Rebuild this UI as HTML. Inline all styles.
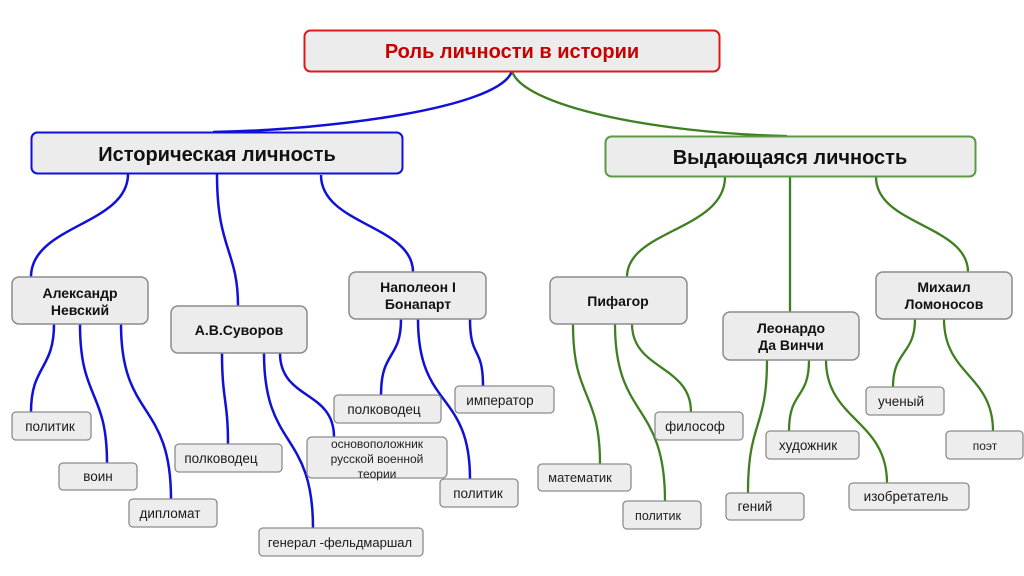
<!DOCTYPE html>
<html><head><meta charset="utf-8">
<style>
html,body{margin:0;padding:0;background:#fff;}
svg{display:block;}
text{font-family:"Liberation Sans","DejaVu Sans",sans-serif;}
.b{fill:#ececec;stroke:#8c8c8c;stroke-width:1.5;}
.l{fill:#ededed;stroke:#8c8c8c;stroke-width:1.3;}
.t1{font-size:20px;font-weight:bold;fill:#111;}
.t2{font-size:14px;font-weight:bold;fill:#111;}
.t3{font-size:13.5px;fill:#1a1a1a;}
.bl{fill:none;stroke:#1010d8;stroke-width:2.5;}
.gr{fill:none;stroke:#3f7f22;stroke-width:2.3;}
</style></head>
<body>
<svg width="1024" height="576" viewBox="0 0 1024 576" xmlns="http://www.w3.org/2000/svg">
<!-- root connectors -->
<path class="bl" d="M512,71 C500,108 330,130 213,132"/>
<path class="gr" d="M512,71 C522,105 650,133 787,136"/>
<!-- level1 -> level2 -->
<path class="bl" d="M128,174 C128,225 31,225 31,277"/>
<path class="bl" d="M217,174 C217,250 238,250 238,306"/>
<path class="bl" d="M321,175 C321,225 413,225 413,272"/>
<path class="gr" d="M725,177 C725,230 627,230 627,277"/>
<path class="gr" d="M790,177 L790,312"/>
<path class="gr" d="M876,177 C876,225 968,225 968,272"/>
<!-- Nevsky -->
<path class="bl" d="M54,324 C54,370 31,365 31,412"/>
<path class="bl" d="M80,324 C80,400 107,390 107,463"/>
<path class="bl" d="M121,324 C121,420 171,400 171,499"/>
<!-- Suvorov -->
<path class="bl" d="M222,353 C222,400 228,400 228,444"/>
<path class="bl" d="M264,353 C264,450 313,430 313,528"/>
<path class="bl" d="M280,353 C280,400 334,390 334,437"/>
<!-- Napoleon -->
<path class="bl" d="M401,319 C401,360 381,350 381,395"/>
<path class="bl" d="M418,319 C418,410 470,390 470,479"/>
<path class="bl" d="M470,319 C470,360 483,345 483,386"/>
<!-- Pifagor -->
<path class="gr" d="M573,324 C573,400 600,390 600,464"/>
<path class="gr" d="M615,324 C615,420 665,400 665,501"/>
<path class="gr" d="M632,324 C632,370 691,365 691,412"/>
<!-- Leonardo -->
<path class="gr" d="M767,360 C767,430 748,420 748,493"/>
<path class="gr" d="M809,360 C809,400 789,390 789,431"/>
<path class="gr" d="M826,360 C826,420 887,420 887,483"/>
<!-- Lomonosov -->
<path class="gr" d="M915,319 C915,355 893,350 893,387"/>
<path class="gr" d="M944,319 C944,375 993,375 993,431"/>

<!-- root -->
<rect x="304.5" y="30.5" width="415" height="41" rx="6" fill="#ececec" stroke="#e01818" stroke-width="2"/>
<text x="512" y="58" text-anchor="middle" style="font-size:20px;font-weight:bold;fill:#c80000;">Роль личности в истории</text>

<!-- level1 -->
<rect x="31.5" y="132.5" width="371" height="41" rx="6" fill="#ececec" stroke="#1010d8" stroke-width="2"/>
<text x="217" y="161" text-anchor="middle" class="t1">Историческая личность</text>
<rect x="605.5" y="136.5" width="370" height="40" rx="6" fill="#ececec" stroke="#5c9a45" stroke-width="2"/>
<text x="790" y="164" text-anchor="middle" class="t1">Выдающаяся личность</text>

<!-- level2 -->
<rect class="b" x="12" y="277" width="136" height="47" rx="7"/>
<text x="80" y="298" text-anchor="middle" class="t2">Александр</text>
<text x="80" y="315" text-anchor="middle" class="t2">Невский</text>

<rect class="b" x="171" y="306" width="136" height="47" rx="7"/>
<text x="239" y="335" text-anchor="middle" class="t2">А.В.Суворов</text>

<rect class="b" x="349" y="272" width="137" height="47" rx="7"/>
<text x="418" y="292" text-anchor="middle" class="t2">Наполеон I</text>
<text x="418" y="309" text-anchor="middle" class="t2">Бонапарт</text>

<rect class="b" x="550" y="277" width="137" height="47" rx="7"/>
<text x="618" y="306" text-anchor="middle" class="t2">Пифагор</text>

<rect class="b" x="723" y="312" width="136" height="48" rx="7"/>
<text x="791" y="333" text-anchor="middle" class="t2">Леонардо</text>
<text x="791" y="350" text-anchor="middle" class="t2">Да Винчи</text>

<rect class="b" x="876" y="272" width="136" height="47" rx="7"/>
<text x="944" y="292" text-anchor="middle" class="t2">Михаил</text>
<text x="944" y="309" text-anchor="middle" class="t2">Ломоносов</text>

<!-- leaves left -->
<rect class="l" x="12" y="412" width="79" height="28" rx="4"/>
<text x="50" y="431" text-anchor="middle" class="t3">политик</text>
<rect class="l" x="59" y="463" width="78" height="27" rx="4"/>
<text x="98" y="481" text-anchor="middle" class="t3">воин</text>
<rect class="l" x="129" y="499" width="88" height="28" rx="4"/>
<text x="170" y="518" text-anchor="middle" class="t3">дипломат</text>

<rect class="l" x="175" y="444" width="107" height="28" rx="4"/>
<text x="221" y="463" text-anchor="middle" class="t3">полководец</text>
<rect class="l" x="307" y="437" width="140" height="41" rx="5"/>
<text x="377" y="448" text-anchor="middle" style="font-size:12px;fill:#222;">основоположник</text>
<text x="377" y="463" text-anchor="middle" style="font-size:12px;fill:#222;">русской военной</text>
<text x="377" y="478" text-anchor="middle" style="font-size:12px;fill:#222;">теории</text>
<rect class="l" x="259" y="528" width="164" height="28" rx="4"/>
<text x="340" y="547" text-anchor="middle" style="font-size:13px;fill:#1a1a1a;">генерал -фельдмаршал</text>

<rect class="l" x="334" y="395" width="107" height="28" rx="4"/>
<text x="384" y="414" text-anchor="middle" class="t3">полководец</text>
<rect class="l" x="455" y="386" width="99" height="27" rx="4"/>
<text x="500" y="405" text-anchor="middle" class="t3">император</text>
<rect class="l" x="440" y="479" width="78" height="28" rx="4"/>
<text x="478" y="498" text-anchor="middle" class="t3">политик</text>

<!-- leaves right -->
<rect class="l" x="655" y="412" width="88" height="28" rx="4"/>
<text x="695" y="431" text-anchor="middle" class="t3">философ</text>
<rect class="l" x="538" y="464" width="93" height="27" rx="4"/>
<text x="580" y="482" text-anchor="middle" style="font-size:13px;fill:#222;">математик</text>
<rect class="l" x="623" y="501" width="78" height="28" rx="4"/>
<text x="658" y="520" text-anchor="middle" style="font-size:12.5px;fill:#222;">политик</text>

<rect class="l" x="766" y="431" width="93" height="28" rx="4"/>
<text x="808" y="450" text-anchor="middle" class="t3">художник</text>
<rect class="l" x="726" y="493" width="78" height="27" rx="4"/>
<text x="755" y="511" text-anchor="middle" class="t3">гений</text>
<rect class="l" x="849" y="483" width="120" height="27" rx="4"/>
<text x="906" y="501" text-anchor="middle" class="t3">изобретатель</text>

<rect class="l" x="866" y="387" width="78" height="28" rx="4"/>
<text x="901" y="406" text-anchor="middle" class="t3">ученый</text>
<rect class="l" x="946" y="431" width="77" height="28" rx="4"/>
<text x="985" y="450" text-anchor="middle" style="font-size:12px;fill:#222;">поэт</text>
</svg>
</body></html>
